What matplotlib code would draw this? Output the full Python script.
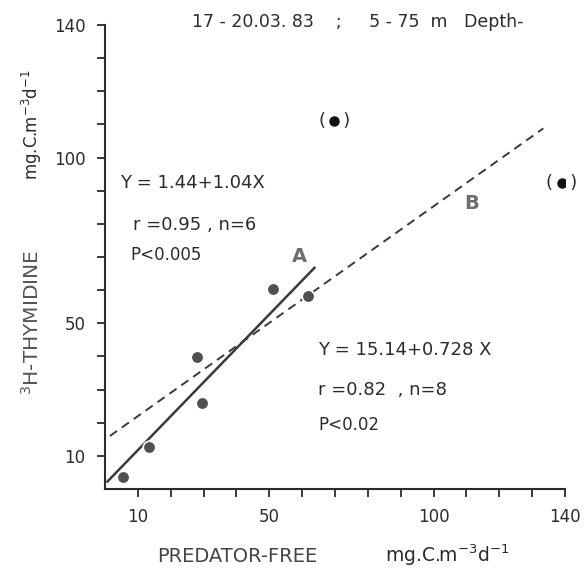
import matplotlib
matplotlib.use("Agg")
import matplotlib.pyplot as plt

# predator-free vs 3H-thymidine
pf = [5.4, 13.4, 28.1, 29.4, 51.2, 61.9]
thy = [3.7, 12.8, 39.9, 26.0, 60.3, 58.2]

# bracketed (excluded) points
pf_excl = [69.8, 139.0]
thy_excl = [111.1, 92.4]

# regression lines, end points as drawn
line_a_x = [0.5, 64.0]
line_a_y = [2.0, 67.0]
line_b_x = [1.5, 133.4]
line_b_y = [16.0, 108.8]

ticks = list(range(10, 150, 10))
tick_labels = ["10", "", "", "", "50", "", "", "", "", "100", "", "", "", "140"]

plt.rcParams["font.family"] = ["DejaVu Sans"]
ink = "#2b2b2b"

fig = plt.figure(figsize=(5.85, 5.72), dpi=100)
ax = fig.add_axes([0.1795, 0.1451, 0.7863, 0.8112])

ax.plot(line_a_x, line_a_y, color="#3a3a3a", lw=1.8, solid_capstyle="butt", zorder=2)
ax.plot(line_b_x, line_b_y, color="#3a3a3a", lw=1.4, dashes=(4.5, 3.0), zorder=2)

ax.plot(pf, thy, "o", ms=9, color="#505050", mec="white", mew=1.2, zorder=3)
ax.plot(pf_excl, thy_excl, "o", ms=6.5, color="#111111", zorder=3)
for x, y in zip(pf_excl, thy_excl):
    ax.text(x, y, "(   )", ha="center", va="center", fontsize=13, color=ink)

ax.set_xlim(0, 140)
ax.set_ylim(0, 140)
ax.set_xticks(ticks)
ax.set_xticklabels(tick_labels)
ax.set_yticks(ticks)
ax.set_yticklabels(tick_labels)
ax.tick_params(length=6, width=1.3, color=ink, labelcolor=ink, labelsize=12, pad=8)

for side in ["top", "right"]:
    ax.spines[side].set_visible(False)
for side in ["left", "bottom"]:
    ax.spines[side].set_linewidth(1.5)
    ax.spines[side].set_color(ink)

fs = 13
ax.text(4.6, 92.3, "Y = 1.44+1.04X", fontsize=fs, color=ink, va="center")
ax.text(8.5, 79.7, "r =0.95 , n=6", fontsize=fs, color=ink, va="center")
ax.text(7.6, 70.6, "P<0.005", fontsize=fs - 1, color=ink, va="center")
ax.text(64.8, 41.9, "Y = 15.14+0.728 X", fontsize=fs, color=ink, va="center")
ax.text(64.8, 29.9, "r =0.82  , n=8", fontsize=fs, color=ink, va="center")
ax.text(64.8, 19.3, "P<0.02", fontsize=fs - 1, color=ink, va="center")

ax.text(59.3, 70.0, "A", fontsize=14, fontweight="bold", color="#6e6e6e",
        ha="center", va="center")
ax.text(111.6, 86.2, "B", fontsize=14, fontweight="bold", color="#6e6e6e",
        ha="center", va="center")

fig.text(358 / 585, 1 - 22 / 572, "17 - 20.03. 83    ;     5 - 75  m   Depth-",
         fontsize=12.5, color=ink, ha="center", va="center")

fig.text(157 / 585, 1 - 557 / 572, "PREDATOR-FREE", fontsize=14,
         color="#444444", ha="left", va="center")
fig.text(385 / 585, 1 - 555 / 572, r"mg.C.m$^{-3}$d$^{-1}$", fontsize=13.5,
         color=ink, ha="left", va="center")

fig.text(32 / 585, 1 - 322 / 572, r"$^{3}$H-THYMIDINE", fontsize=14.5,
         color="#555555", rotation=90, ha="center", va="center")
fig.text(32 / 585, 1 - 125 / 572, r"mg.C.m$^{-3}$d$^{-1}$", fontsize=12,
         color=ink, rotation=90, ha="center", va="center")

fig.savefig("out.png", dpi=100)
